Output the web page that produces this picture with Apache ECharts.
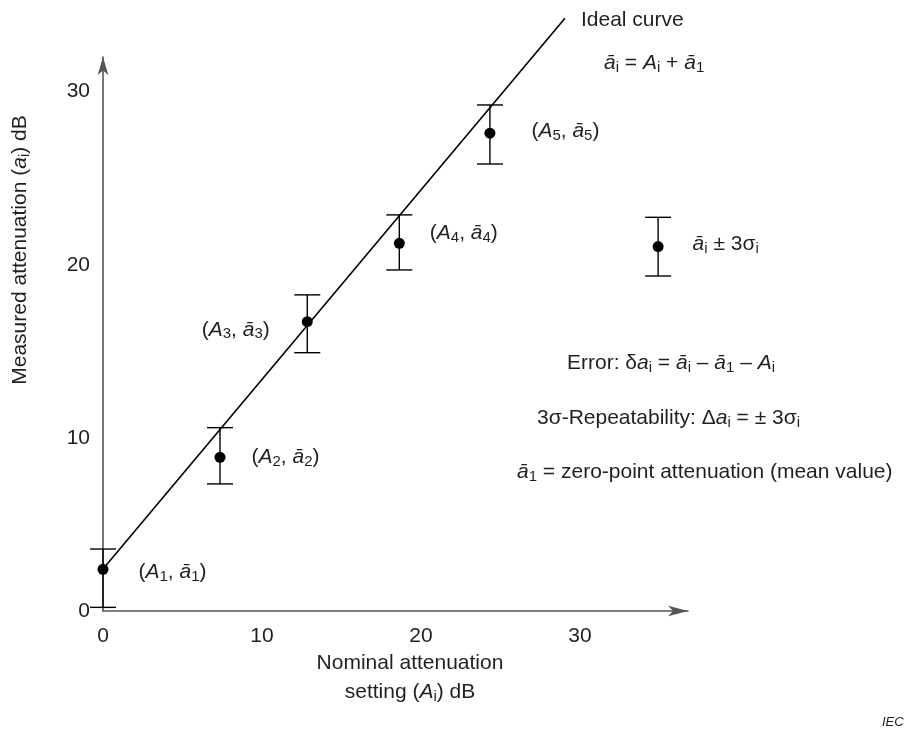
<!DOCTYPE html>
<html>
<head>
<meta charset="utf-8">
<script src="https://cdn.jsdelivr.net/npm/echarts@6/dist/echarts.min.js"></script>
<style>html,body{margin:0;padding:0;background:#fff}#chart{width:904px;height:729px}</style>
</head>
<body>
<div id="chart"></div>
<script>
// ---- data ----
const nominalA = [0, 7.36, 12.85, 18.64, 24.34];      // A_i (dB)
const meanA    = [2.41, 8.88, 16.71, 21.24, 27.60];   // mean measured a_i (dB)
const upperA   = [3.58, 10.59, 18.26, 22.88, 29.23];  // a_i + 3 sigma
const lowerA   = [0.21, 7.34, 14.92, 19.70, 25.82];   // a_i - 3 sigma
const pointIdx = ['1', '2', '3', '4', '5'];
const keyX     = [34.92];   // legend sample error bar
const keyMean  = [21.05];
const keyUpper = [22.74];
const keyLower = [19.35];
const idealX   = [0, 29.06];
const idealY   = [2.43, 34.24];
const xTicks   = [0, 10, 20, 30];
const yTicks   = [0, 10, 20, 30];

// ---- styling ----
const FONT = '"Liberation Sans", Arial, Helvetica, sans-serif';
const TXT = '#231f20';
const FS = 21, SFS = 15;
function richSet(lh) {
  return {
    n:   { fontFamily: FONT, fontSize: FS, color: TXT, lineHeight: lh, opacity: 1 },
    i:   { fontFamily: FONT, fontSize: FS, fontStyle: 'italic', color: TXT, lineHeight: lh, opacity: 1 },
    sub: { fontFamily: FONT, fontSize: SFS, color: TXT, height: lh - 9, verticalAlign: 'bottom', opacity: 1 }
  };
}
function zrRich(lh) {
  return {
    n:   { font: FS + 'px ' + FONT, fill: TXT, lineHeight: lh },
    i:   { font: 'italic ' + FS + 'px ' + FONT, fill: TXT, lineHeight: lh },
    sub: { font: SFS + 'px ' + FONT, fill: TXT, height: lh - 9, verticalAlign: 'bottom' }
  };
}
const pairLabel = k => '{n|(}{i|A}{sub|' + k + '}{n|, }{i|ā}{sub|' + k + '}{n|)}';
// label placement per point: [position, distance, dy]
const labelPlace = [['right', 30, 3], ['right', 26, 0], ['left', 32, 8], ['right', 25, -10], ['right', 36, -2]];

const capHalf = 13;
function errRender(params, api) {
  const x = api.value(0);
  const top = api.coord([x, api.value(1)]);
  const bot = api.coord([x, api.value(2)]);
  const st = { stroke: '#000', lineWidth: 1.4 };
  return {
    type: 'group',
    children: [
      { type: 'line', shape: { x1: top[0], y1: top[1], x2: bot[0], y2: bot[1] }, style: st },
      { type: 'line', shape: { x1: top[0] - capHalf, y1: top[1], x2: top[0] + capHalf, y2: top[1] }, style: st },
      { type: 'line', shape: { x1: bot[0] - capHalf, y1: bot[1], x2: bot[0] + capHalf, y2: bot[1] }, style: st }
    ]
  };
}

const chart = echarts.init(document.getElementById('chart'), null, { renderer: 'canvas' });
const axisLineStyle = { color: '#555', width: 1.6 };
const labelBase = { show: true, color: TXT, opacity: 1, textBorderWidth: 0, rich: richSet(25) };

const option = {
  animation: false,
  backgroundColor: '#fff',
  textStyle: { fontFamily: FONT, color: TXT },
  grid: { left: 103, right: 216, top: 57, bottom: 118, containLabel: false, outerBoundsMode: 'none' },
  xAxis: {
    type: 'value', min: 0, max: 36.8, interval: 10,
    axisLine: { show: true, lineStyle: axisLineStyle, symbol: ['none', 'arrow'], symbolSize: [8, 20] },
    axisTick: { show: false },
    splitLine: { show: false },
    axisLabel: { customValues: xTicks, fontSize: FS, color: TXT, fontFamily: FONT, margin: 15 },
    name: '{n|Nominal attenuation}\n{n|setting (}{i|A}{sub|i}{n|) dB}',
    nameLocation: 'middle', nameGap: 38,
    nameTextStyle: { rich: richSet(29), padding: [0, 0, 0, 29] }
  },
  yAxis: {
    type: 'value', min: 0, max: 32, interval: 10,
    axisLine: { show: true, lineStyle: axisLineStyle, symbol: ['none', 'arrow'], symbolSize: [8, 18] },
    axisTick: { show: false },
    splitLine: { show: false },
    axisLabel: { customValues: yTicks, fontSize: FS, color: TXT, fontFamily: FONT, margin: 13 },
    name: '{n|Measured attenuation (}{i|a}{sub|i}{n|) dB}',
    nameLocation: 'middle', nameGap: 70,
    nameTextStyle: { rich: richSet(25), padding: [0, 0, 0, 168] }
  },
  series: [
    {
      name: 'Ideal curve', type: 'line', clip: false, showSymbol: false, symbol: 'none',
      data: idealX.map((x, i) => [x, idealY[i]]),
      lineStyle: { color: '#000', width: 1.6, opacity: 1 }, z: 2, silent: true
    },
    {
      name: 'error bars', type: 'custom', clip: false, renderItem: errRender,
      data: nominalA.map((x, i) => [x, upperA[i], lowerA[i]]), z: 3, silent: true
    },
    {
      name: 'key error bar', type: 'custom', clip: false, renderItem: errRender,
      data: keyX.map((x, i) => [x, keyUpper[i], keyLower[i]]), z: 3, silent: true
    },
    {
      name: 'measured', type: 'scatter', symbol: 'circle', symbolSize: 11, clip: false,
      itemStyle: { color: '#000', opacity: 1 }, z: 4, silent: true,
      data: nominalA.map((x, i) => ({
        value: [x, meanA[i]],
        label: Object.assign({}, labelBase, {
          position: labelPlace[i][0], distance: labelPlace[i][1], offset: [0, labelPlace[i][2]],
          formatter: pairLabel(pointIdx[i])
        })
      }))
    },
    {
      name: 'key point', type: 'scatter', symbol: 'circle', symbolSize: 11, clip: false,
      itemStyle: { color: '#000', opacity: 1 }, z: 4, silent: true,
      data: keyX.map((x, i) => ({
        value: [x, keyMean[i]],
        label: Object.assign({}, labelBase, {
          position: 'right', distance: 29, offset: [0, -2],
          formatter: '{i|ā}{sub|i}{n| ± 3σ}{sub|i}'
        })
      }))
    }
  ],
  graphic: [
    { type: 'text', x: 581, y: 20, style: { text: '{n|Ideal curve}', rich: zrRich(25), align: 'left', verticalAlign: 'middle' } },
    { type: 'text', x: 604, y: 63, style: { text: '{i|ā}{sub|i}{n| = }{i|A}{sub|i}{n| + }{i|ā}{sub|1}', rich: zrRich(25), align: 'left', verticalAlign: 'middle' } },
    { type: 'text', x: 567, y: 363, style: { text: '{n|Error: δ}{i|a}{sub|i}{n| = }{i|ā}{sub|i}{n| – }{i|ā}{sub|1}{n| – }{i|A}{sub|i}', rich: zrRich(25), align: 'left', verticalAlign: 'middle' } },
    { type: 'text', x: 537, y: 418, style: { text: '{n|3σ-Repeatability: Δ}{i|a}{sub|i}{n| = ± 3σ}{sub|i}', rich: zrRich(25), align: 'left', verticalAlign: 'middle' } },
    { type: 'text', x: 517, y: 472, style: { text: '{i|ā}{sub|1}{n| = zero-point attenuation (mean value)}', rich: zrRich(25), align: 'left', verticalAlign: 'middle' } },
    { type: 'text', x: 882, y: 722, style: { text: 'IEC', font: 'italic 13px ' + FONT, fill: TXT, align: 'left', verticalAlign: 'middle' } }
  ]
};
chart.setOption(option);
</script>
</body>
</html>
